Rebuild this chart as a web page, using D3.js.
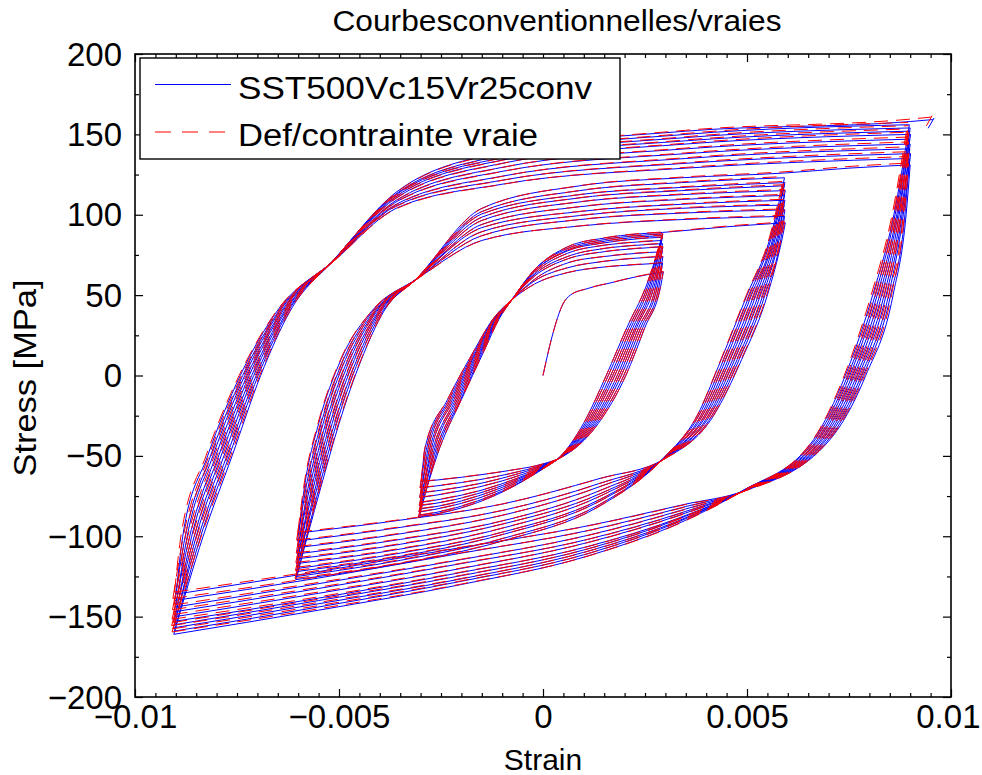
<!DOCTYPE html>
<html><head><meta charset="utf-8">
<script src="https://cdn.jsdelivr.net/npm/d3@7"></script>
<style>
body{margin:0;background:#fff}
svg{display:block}
text{font-family:"Liberation Sans",Arial,Helvetica,sans-serif;fill:#000}
</style>
</head><body>
<svg id="c" width="982" height="775"></svg>
<script>
// ---------------- DATA ----------------
const titleText = "Courbesconventionnelles/vraies";
const xLabelText = "Strain";
const yLabelText = "Stress [MPa]";
const seriesNames = ["SST500Vc15Vr25conv", "Def/contrainte vraie"];
const xTicks = [-0.01, -0.005, 0, 0.005, 0.01];
const xTickLabels = ["\u22120.01", "\u22120.005", "0", "0.005", "0.01"];
const yTicks = [-200, -150, -100, -50, 0, 50, 100, 150, 200];
const yTickLabels = ["\u2212200", "\u2212150", "\u2212100", "\u221250", "0", "50", "100", "150", "200"];

// first loading from the origin
const initialStrain = [0, 0.00022, 0.0005, 0.00067, 0.00108, 0.00172, 0.00221, 0.00295];
const initialStress = [0, 24, 45, 50, 54, 58, 61, 64.5];

// ---- loop 1 : +-0.003 (10 cycles) ----
const innerTopStrain = [0.00295, 0.00293, 0.00294, 0.00292, 0.00294, 0.00293, 0.00291, 0.00293, 0.00292, 0.00294, 0.00293];
const innerTopStress = [64.5, 70, 74, 77, 80, 82, 84, 86, 87, 88, 89];
const innerBotStrain = [-0.00298, -0.00301, -0.00299, -0.00302, -0.00300, -0.00303, -0.00301, -0.00304, -0.00302, -0.00305];
const innerBotStress = [-66, -70, -73, -76, -79, -81, -83, -85, -87, -88];
const innerUpLevels = [-45, -15, 15, 35, 48];
const innerUpSteep = [
  [-0.00289, -0.00285, -0.00281, -0.00277, -0.00273, -0.00269, -0.00265, -0.00261, -0.00257, -0.00253],
  [-0.00234, -0.00230, -0.00226, -0.00222, -0.00218, -0.00214, -0.00210, -0.00206, -0.00202, -0.00200],
  [-0.00170, -0.00167, -0.00164, -0.00162, -0.00159, -0.00156, -0.00153, -0.00151, -0.00148, -0.00145],
  [-0.00123, -0.00121, -0.00119, -0.00118, -0.00116, -0.00114, -0.00113, -0.00111, -0.00110, -0.00108],
  [-0.00072, -0.00073, -0.00072, -0.00074, -0.00073, -0.00073, -0.00074, -0.00073, -0.00074, -0.00074]];
const innerUpStrains = [-0.0002, 0.0006, 0.0015, 0.0023];
const innerUpPlateau = [
  [57, 59, 60, 62, 63, 64, 65, 65, 66, 66],
  [64, 67, 70, 72.5, 74, 76, 77.5, 78, 79, 80],
  [67.5, 71, 74, 77, 79, 81, 82.5, 83.5, 84.5, 85.5],
  [69, 73, 76, 79, 81, 83, 85, 86, 87, 88]];
const innerDownLevels = [55, 30, 0, -30, -51];
const innerDownSteep = [
  [0.00288, 0.00284, 0.00280, 0.00276, 0.00272, 0.00268, 0.00264, 0.00260, 0.00256, 0.00252],
  [0.00250, 0.00245, 0.00240, 0.00235, 0.00230, 0.00226, 0.00221, 0.00216, 0.00211, 0.00206],
  [0.00203, 0.00198, 0.00192, 0.00187, 0.00182, 0.00176, 0.00171, 0.00166, 0.00160, 0.00155],
  [0.00135, 0.00131, 0.00127, 0.00123, 0.00119, 0.00115, 0.00111, 0.00107, 0.00103, 0.00099],
  [0.00044, 0.00043, 0.00043, 0.00042, 0.00042, 0.00042, 0.00041, 0.00041, 0.00040, 0.00040]];
const innerDownStrains = [0, -0.0008, -0.0016, -0.0024];
const innerDownPlateau = [
  [-55, -55.5, -56, -56.5, -57, -57, -57.5, -57.5, -58, -58],
  [-59, -61, -62.5, -64, -65.5, -66.5, -67.5, -68.5, -69.5, -70],
  [-62, -65, -67.5, -69.5, -72, -73.5, -75, -76.5, -78, -79],
  [-64.5, -68, -71, -73.5, -76.5, -78.5, -80.5, -82, -84, -85]];

// ---- loop 2 : +-0.006 (10 cycles) ----
const middleTopStrain = [0.00594, 0.00592, 0.00593, 0.00591, 0.00593, 0.00592, 0.00594, 0.00591, 0.00593, 0.00592, 0.00594];
const middleTopStress = [95, 99, 103, 106, 109, 112, 115, 118, 120, 123, 126];
const middleBotStrain = [-0.00599, -0.00602, -0.00600, -0.00603, -0.00601, -0.00604, -0.00602, -0.00605, -0.00603, -0.00606];
const middleBotStress = [-98, -103, -107, -111, -114, -117, -120, -122, -125, -127];
const middleUpLevels = [-70, -30, 10, 40, 60];
const middleUpSteep = [
  [-0.00585, -0.00581, -0.00576, -0.00572, -0.00567, -0.00563, -0.00558, -0.00554, -0.00549, -0.00545],
  [-0.00550, -0.00544, -0.00539, -0.00533, -0.00528, -0.00522, -0.00517, -0.00511, -0.00506, -0.00500],
  [-0.00495, -0.00489, -0.00484, -0.00478, -0.00473, -0.00467, -0.00462, -0.00456, -0.00451, -0.00445],
  [-0.00420, -0.00417, -0.00413, -0.00410, -0.00407, -0.00403, -0.00400, -0.00397, -0.00393, -0.00390],
  [-0.00309, -0.00310, -0.00309, -0.00311, -0.00310, -0.00310, -0.00311, -0.00310, -0.00311, -0.00311]];
const middleUpStrains = [-0.0015, 0.0009, 0.0034];
const middleUpPlateau = [
  [84, 87, 89.5, 92, 94, 96.5, 98.5, 100.5, 102, 104],
  [93, 97, 99.5, 102, 105, 108, 110.5, 112.5, 115, 118],
  [97, 101, 104, 106.5, 109.5, 112.5, 115, 117, 120, 123]];
const middleDownLevels = [85, 50, 10, -25, -52];
const middleDownSteep = [
  [0.00586, 0.00583, 0.00579, 0.00576, 0.00573, 0.00569, 0.00566, 0.00563, 0.00559, 0.00556],
  [0.00550, 0.00544, 0.00539, 0.00533, 0.00528, 0.00522, 0.00517, 0.00511, 0.00506, 0.00500],
  [0.00487, 0.00481, 0.00476, 0.00470, 0.00465, 0.00459, 0.00454, 0.00448, 0.00443, 0.00437],
  [0.00418, 0.00414, 0.00409, 0.00405, 0.00400, 0.00396, 0.00391, 0.00387, 0.00382, 0.00378],
  [0.00297, 0.00296, 0.00296, 0.00295, 0.00295, 0.00295, 0.00294, 0.00294, 0.00293, 0.00293]];
const middleDownStrains = [0.0014, -0.0010, -0.0035];
const middleDownPlateau = [
  [-64, -67, -69, -71.5, -73.5, -75, -77, -78, -80, -81],
  [-80, -84, -87, -90.5, -92.5, -95, -97.5, -99, -101.5, -103],
  [-90, -94.5, -98.5, -102, -105, -108, -110.5, -112.5, -115, -117]];

// ---- loop 3 : +-0.009 (10 cycles) ----
const bigTopStrain = [0.00900, 0.00898, 0.00901, 0.00899, 0.00900, 0.00898, 0.00901, 0.00899, 0.00900, 0.00898, 0.00901];
const bigTopStress = [131, 135, 138, 141, 144, 147, 150, 152, 154, 156, 158];
const bigBotStrain = [-0.00899, -0.00903, -0.00900, -0.00904, -0.00901, -0.00905, -0.00902, -0.00906, -0.00903, -0.00905];
const bigBotStress = [-136, -140, -144, -147, -150, -153, -155, -157, -159, -161];
const bigUpLevels = [-100, -50, 0, 40, 72];
const bigUpSteep = [
  [-0.00883, -0.00877, -0.00872, -0.00866, -0.00861, -0.00855, -0.00850, -0.00844, -0.00839, -0.00833],
  [-0.00822, -0.00815, -0.00809, -0.00802, -0.00795, -0.00789, -0.00782, -0.00775, -0.00769, -0.00762],
  [-0.00742, -0.00736, -0.00731, -0.00725, -0.00720, -0.00714, -0.00709, -0.00703, -0.00698, -0.00692],
  [-0.00652, -0.00648, -0.00645, -0.00641, -0.00638, -0.00634, -0.00631, -0.00627, -0.00624, -0.00620],
  [-0.00509, -0.00510, -0.00511, -0.00510, -0.00511, -0.00512, -0.00511, -0.00512, -0.00513, -0.00512]];
const bigUpStrains = [-0.0036, -0.0010, 0.0035];
const bigUpPlateau = [
  [104, 105.5, 106.5, 108, 109, 110.5, 111.5, 112.5, 113, 114],
  [119, 121.5, 124, 127, 129.5, 132, 134, 135.5, 137, 139],
  [129, 132, 135, 138, 141, 144, 146, 148, 150, 152]];
const bigDownLevels = [100, 50, 0, -40, -72];
const bigDownSteep = [
  [0.00890, 0.00887, 0.00883, 0.00880, 0.00877, 0.00873, 0.00870, 0.00867, 0.00863, 0.00860],
  [0.00858, 0.00852, 0.00847, 0.00841, 0.00836, 0.00830, 0.00825, 0.00819, 0.00814, 0.00808],
  [0.00791, 0.00785, 0.00780, 0.00774, 0.00769, 0.00763, 0.00758, 0.00752, 0.00747, 0.00741],
  [0.00703, 0.00699, 0.00694, 0.00690, 0.00685, 0.00681, 0.00676, 0.00672, 0.00667, 0.00663],
  [0.00491, 0.00490, 0.00490, 0.00489, 0.00489, 0.00489, 0.00488, 0.00488, 0.00487, 0.00487]];
const bigDownStrains = [0.0035, 0.0010, -0.0020, -0.0055];
const bigDownPlateau = [
  [-80, -81.5, -83, -84.5, -85.5, -87, -87.5, -88.5, -89, -90],
  [-94, -97, -100, -102.5, -104.5, -107, -108.5, -110, -111.5, -113],
  [-107, -110.5, -114.5, -117, -120, -122.5, -124.5, -126.5, -128, -130],
  [-122, -126, -129.5, -132.5, -135.5, -138.5, -140, -142, -144, -146]];

// passage from one amplitude to the next, and the end of the test
const transitionStrain = [0.0045, 0.0075];
const transitionStress = [92.5, 129];
const tailStrain = [0.00955, 0.00958, 0.00944];
const tailStress = [159.2, 160, 153.8];

// ---------------- BUILD ----------------
const loops = [
  {topStrain: innerTopStrain, topStress: innerTopStress, botStrain: innerBotStrain, botStress: innerBotStress,
   upLevels: innerUpLevels, upSteep: innerUpSteep, upStrains: innerUpStrains, upPlateau: innerUpPlateau,
   downLevels: innerDownLevels, downSteep: innerDownSteep, downStrains: innerDownStrains, downPlateau: innerDownPlateau},
  {topStrain: middleTopStrain, topStress: middleTopStress, botStrain: middleBotStrain, botStress: middleBotStress,
   upLevels: middleUpLevels, upSteep: middleUpSteep, upStrains: middleUpStrains, upPlateau: middleUpPlateau,
   downLevels: middleDownLevels, downSteep: middleDownSteep, downStrains: middleDownStrains, downPlateau: middleDownPlateau},
  {topStrain: bigTopStrain, topStress: bigTopStress, botStrain: bigBotStrain, botStress: bigBotStress,
   upLevels: bigUpLevels, upSteep: bigUpSteep, upStrains: bigUpStrains, upPlateau: bigUpPlateau,
   downLevels: bigDownLevels, downSteep: bigDownSteep, downStrains: bigDownStrains, downPlateau: bigDownPlateau}
];

const branches = [initialStrain.map((e, i) => [e, initialStress[i]])];
loops.forEach((L, li) => {
  const n = L.botStress.length;
  for (let k = 0; k < n; k++) {
    const down = [[L.topStrain[k], L.topStress[k]]];
    L.downLevels.forEach((lv, j) => down.push([L.downSteep[j][k], lv]));
    L.downStrains.forEach((s, j) => down.push([s, L.downPlateau[j][k]]));
    down.push([L.botStrain[k], L.botStress[k]]);
    branches.push(down);
    const up = [[L.botStrain[k], L.botStress[k]]];
    L.upLevels.forEach((lv, j) => up.push([L.upSteep[j][k], lv]));
    L.upStrains.forEach((s, j) => up.push([s, L.upPlateau[j][k]]));
    up.push([L.topStrain[k + 1], L.topStress[k + 1]]);
    if (k === n - 1) {
      if (li < loops.length - 1) {
        up.push([transitionStrain[li], transitionStress[li]]);
        up.push([loops[li + 1].topStrain[0], loops[li + 1].topStress[0]]);
      } else {
        up.push([tailStrain[0], tailStress[0]]);
      }
    }
    branches.push(up);
  }
});
const tail = tailStrain.map((e, i) => [e, tailStress[i]]);

// true strain / true stress from the conventional values
const toTrue = p => [Math.log(1 + p[0]), p[1] * (1 + p[0])];
const branchesTrue = branches.map(b => b.map(toTrue));
const tailTrue = tail.map(toTrue);

// ---------------- DRAW ----------------
const W = 982, H = 775;
const L0 = 135, R0 = 951, T0 = 54, B0 = 697;
const svg = d3.select("#c");
svg.append("rect").attr("width", W).attr("height", H).attr("fill", "#fff");

const x = d3.scaleLinear().domain([-0.01, 0.01]).range([L0, R0]);
const y = d3.scaleLinear().domain([-200, 200]).range([B0, T0]);

svg.append("defs").append("clipPath").attr("id", "clip")
  .append("rect").attr("x", L0).attr("y", T0).attr("width", R0 - L0).attr("height", B0 - T0);

const smooth = d3.line().x(d => x(d[0])).y(d => y(d[1])).curve(d3.curveMonotoneX);
const straight = d3.line().x(d => x(d[0])).y(d => y(d[1]));
const pathOf = (brs, tl) =>
  brs.map(b => smooth(b.slice().sort((a, c) => a[0] - c[0]))).join("") + straight(tl);

const gData = svg.append("g").attr("clip-path", "url(#clip)");
gData.append("path").attr("d", pathOf(branches, tail))
  .attr("fill", "none").attr("stroke", "#0000ff").attr("stroke-width", 1);
gData.append("path").attr("d", pathOf(branchesTrue, tailTrue))
  .attr("fill", "none").attr("stroke", "#ff0000").attr("stroke-width", 1)
  .attr("stroke-dasharray", "14,8");

// axes (ticks pointing inwards on all four sides)
const xMinor = d3.range(-0.01, 0.01 + 1e-9, 0.0005).filter(v => !xTicks.some(t => Math.abs(t - v) < 1e-9));
const yMinor = d3.range(-200, 201, 25).filter(v => !yTicks.includes(v));
function styleAxis(g) {
  g.select(".domain").remove();
  g.selectAll("line").attr("stroke", "#000").attr("stroke-width", 1.2);
}
const bottom = svg.append("g").attr("transform", `translate(0,${B0})`)
  .call(d3.axisBottom(x).tickValues(xTicks).tickSizeInner(-8).tickSizeOuter(0)
    .tickFormat((d, i) => xTickLabels[i]));
styleAxis(bottom);
bottom.selectAll("text").attr("y", 31).attr("dy", null)
  .attr("font-size", 33).attr("font-family", "Liberation Sans, Arial, sans-serif").attr("fill", "#000");
// keep the last label inside the window
bottom.selectAll(".tick").filter((d, i) => i === xTicks.length - 1).select("text")
  .attr("text-anchor", "end").attr("x", 980 - R0);
svg.append("g").attr("transform", `translate(0,${B0})`)
  .call(d3.axisBottom(x).tickValues(xMinor).tickSizeInner(-4).tickSizeOuter(0).tickFormat("")).call(styleAxis);
svg.append("g").attr("transform", `translate(0,${T0})`)
  .call(d3.axisTop(x).tickValues(xTicks).tickSizeInner(-8).tickSizeOuter(0).tickFormat("")).call(styleAxis);
svg.append("g").attr("transform", `translate(0,${T0})`)
  .call(d3.axisTop(x).tickValues(xMinor).tickSizeInner(-4).tickSizeOuter(0).tickFormat("")).call(styleAxis);

const left = svg.append("g").attr("transform", `translate(${L0},0)`)
  .call(d3.axisLeft(y).tickValues(yTicks).tickSizeInner(-8).tickSizeOuter(0)
    .tickFormat((d, i) => yTickLabels[i]));
styleAxis(left);
left.selectAll("text").attr("x", -13).attr("y", 11).attr("dy", null)
  .attr("font-size", 33).attr("font-family", "Liberation Sans, Arial, sans-serif").attr("fill", "#000");
svg.append("g").attr("transform", `translate(${L0},0)`)
  .call(d3.axisLeft(y).tickValues(yMinor).tickSizeInner(-4).tickSizeOuter(0).tickFormat("")).call(styleAxis);
svg.append("g").attr("transform", `translate(${R0},0)`)
  .call(d3.axisRight(y).tickValues(yTicks).tickSizeInner(-8).tickSizeOuter(0).tickFormat("")).call(styleAxis);
svg.append("g").attr("transform", `translate(${R0},0)`)
  .call(d3.axisRight(y).tickValues(yMinor).tickSizeInner(-4).tickSizeOuter(0).tickFormat("")).call(styleAxis);

// frame
svg.append("rect").attr("x", L0).attr("y", T0).attr("width", R0 - L0).attr("height", B0 - T0)
  .attr("fill", "none").attr("stroke", "#000").attr("stroke-width", 1.6);

// title and axis labels
svg.append("text").attr("x", 557).attr("y", 31).attr("text-anchor", "middle")
  .attr("font-size", 29).attr("textLength", 449).attr("lengthAdjust", "spacingAndGlyphs").text(titleText);
svg.append("text").attr("x", 543).attr("y", 770).attr("text-anchor", "middle")
  .attr("font-size", 30).text(xLabelText);
svg.append("text").attr("transform", "translate(36,378) rotate(-90)").attr("text-anchor", "middle")
  .attr("font-size", 31).attr("textLength", 197).attr("lengthAdjust", "spacingAndGlyphs").text(yLabelText);

// legend
const lg = svg.append("g");
lg.append("rect").attr("x", 140).attr("y", 58).attr("width", 480).attr("height", 101)
  .attr("fill", "#fff").attr("stroke", "#000").attr("stroke-width", 1.4);
lg.append("line").attr("x1", 155).attr("x2", 231).attr("y1", 84.5).attr("y2", 84.5)
  .attr("stroke", "#0000ff").attr("stroke-width", 1);
lg.append("line").attr("x1", 155).attr("x2", 231).attr("y1", 132).attr("y2", 132)
  .attr("stroke", "#ff0000").attr("stroke-width", 1).attr("stroke-dasharray", "16,11");
lg.append("text").attr("x", 238).attr("y", 98.5).attr("font-size", 31)
  .attr("textLength", 354).attr("lengthAdjust", "spacingAndGlyphs").text(seriesNames[0]);
lg.append("text").attr("x", 238).attr("y", 145.5).attr("font-size", 31)
  .attr("textLength", 300).attr("lengthAdjust", "spacingAndGlyphs").text(seriesNames[1]);
</script>
</body></html>
